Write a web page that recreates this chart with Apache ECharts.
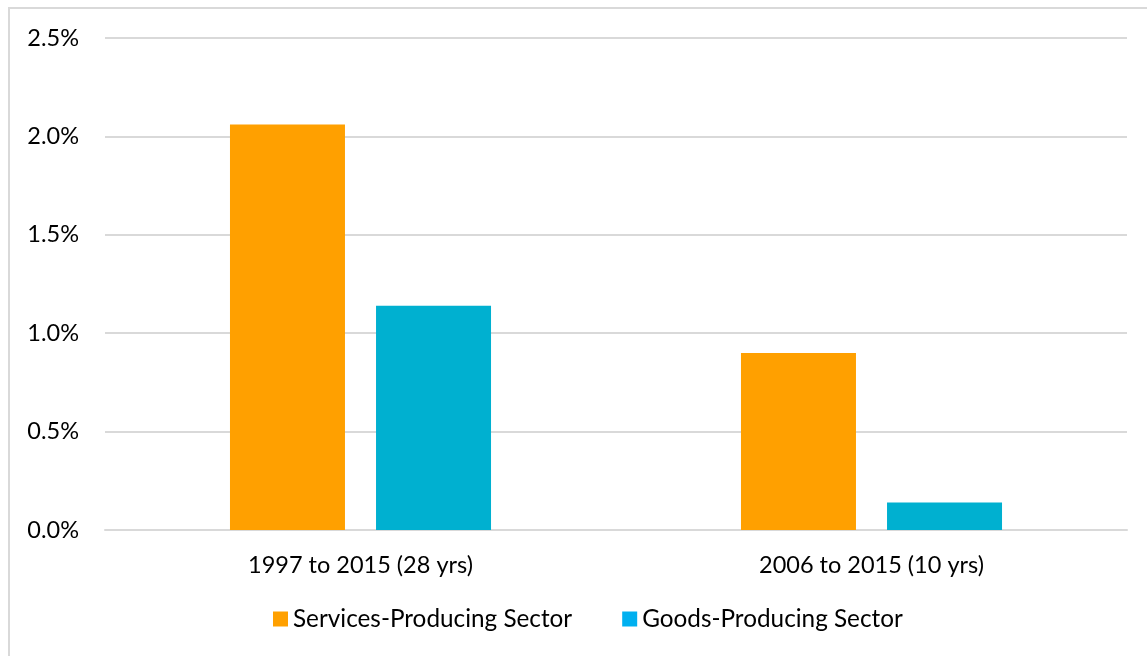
<!DOCTYPE html>
<html>
<head>
<meta charset="utf-8">
<script src="https://cdn.jsdelivr.net/npm/echarts@6/dist/echarts.min.js"></script>
<style>
html,body{margin:0;padding:0;background:#fff;}
#chart{width:1147px;height:656px;}
</style>
</head>
<body>
<div id="chart"></div>
<script>
var categories = ['1997 to 2015 (28 yrs)', '2006 to 2015 (10 yrs)'];
var services = [2.06, 0.90];
var goods = [1.14, 0.14];
var seriesNames = ['Services-Producing Sector', 'Goods-Producing Sector'];

var chart = echarts.init(document.getElementById('chart'));
var font = 'Lato, "Open Sans", sans-serif';
chart.setOption({
  backgroundColor: '#ffffff',
  animation: false,
  graphic: [{
    type: 'rect',
    shape: { x: 9, y: 8, width: 1160, height: 680 },
    style: { fill: 'none', stroke: '#d9d9d9', lineWidth: 2 },
    silent: true
  }],
  grid: { left: 105, right: 20, top: 38, bottom: 126, containLabel: false },
  legend: {
    bottom: 20,
    left: 268,
    itemWidth: 15,
    itemHeight: 15,
    itemGap: 50,
    icon: 'rect',
    textStyle: { fontFamily: font, fontSize: 24.3, color: '#000' },
    data: [
      { name: seriesNames[0], itemStyle: { color: '#FFA000' } },
      { name: seriesNames[1], itemStyle: { color: '#00B0F0' } }
    ]
  },
  xAxis: {
    type: 'category',
    data: categories,
    axisLine: { show: true, lineStyle: { color: '#d9d9d9', width: 2 } },
    axisTick: { show: false },
    axisLabel: { fontFamily: font, fontSize: 23.5, color: '#000', margin: 23 }
  },
  yAxis: {
    type: 'value',
    min: 0,
    max: 2.5,
    interval: 0.5,
    axisLine: { show: false },
    axisTick: { show: false },
    splitLine: { lineStyle: { color: '#d9d9d9', width: 2 } },
    axisLabel: {
      fontFamily: font, fontSize: 23.5, color: '#000', margin: 26,
      formatter: function (v) { return v.toFixed(1) + '%'; }
    }
  },
  series: [
    {
      name: seriesNames[0], type: 'bar', data: services,
      barWidth: 115, barGap: '27%',
      itemStyle: { color: '#FFA000' }
    },
    {
      name: seriesNames[1], type: 'bar', data: goods,
      barWidth: 115,
      itemStyle: { color: '#00B0D0' }
    }
  ]
});
</script>
</body>
</html>
